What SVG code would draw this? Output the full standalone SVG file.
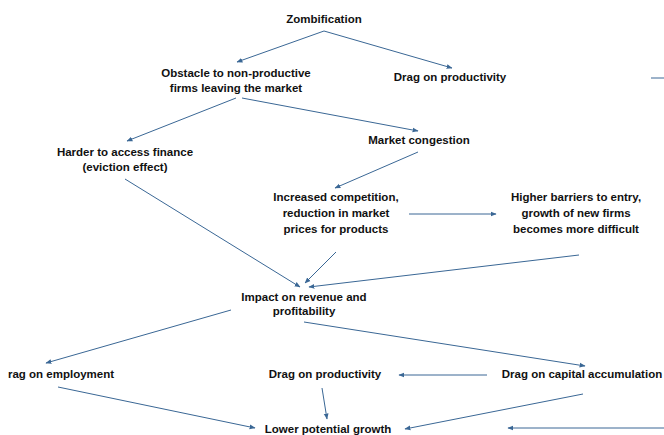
<svg xmlns="http://www.w3.org/2000/svg" width="664" height="435" viewBox="0 0 664 435">
<style>
text{font-family:"Liberation Sans",Arial,sans-serif;font-weight:bold;font-size:11.5px;fill:#111;text-anchor:middle}
.c line{stroke:#3a6795;stroke-width:1}
.a{marker-end:url(#ah)}
</style>
<defs>
<marker id="ah" viewBox="0 0 10 10" refX="9" refY="5" markerWidth="6" markerHeight="6" orient="auto" markerUnits="userSpaceOnUse">
<path d="M0,1 L10,5 L0,9 z" fill="#3a6795"/>
</marker>
</defs>
<rect width="664" height="435" fill="#fff"/>
<g class="c" id="connectors">
<line class="a" x1="324" y1="31" x2="237" y2="62"/>
<line class="a" x1="324" y1="31" x2="452" y2="68"/>
<line x1="651" y1="78" x2="664" y2="78"/>
<line class="a" x1="236" y1="98" x2="127" y2="141"/>
<line class="a" x1="242" y1="98" x2="418" y2="131"/>
<line class="a" x1="418" y1="152" x2="335" y2="188"/>
<line class="a" x1="125" y1="179" x2="300" y2="287"/>
<line class="a" x1="409" y1="214" x2="496" y2="214"/>
<line class="a" x1="336" y1="252" x2="305" y2="283"/>
<line class="a" x1="579" y1="255" x2="309" y2="287"/>
<line class="a" x1="231" y1="310" x2="46" y2="363"/>
<line class="a" x1="304" y1="322" x2="585" y2="366"/>
<line class="a" x1="487" y1="375" x2="399" y2="375"/>
<line class="a" x1="322" y1="388" x2="327" y2="419"/>
<line class="a" x1="58" y1="387" x2="255" y2="428"/>
<line class="a" x1="583" y1="394" x2="405" y2="429"/>
<line class="a" x1="664" y1="428" x2="508" y2="428"/>
</g>
<g id="zombification"><text x="324" y="23">Zombification</text></g>
<g id="obstacle"><text x="236" y="77">Obstacle to non-productive</text><text x="236" y="92">firms leaving the market</text></g>
<g id="drag-prod-top"><text x="450" y="81">Drag on productivity</text></g>
<g id="harder-finance"><text x="125" y="156">Harder to access finance</text><text x="125" y="171">(eviction effect)</text></g>
<g id="market-congestion"><text x="419" y="144">Market congestion</text></g>
<g id="increased-competition"><text x="336" y="201">Increased competition,</text><text x="336" y="217">reduction in market</text><text x="336" y="233">prices for products</text></g>
<g id="higher-barriers"><text x="576" y="201">Higher barriers to entry,</text><text x="576" y="217">growth of new firms</text><text x="576" y="233">becomes more difficult</text></g>
<g id="impact"><text x="304" y="301">Impact on revenue and</text><text x="304" y="315">profitability</text></g>
<g id="drag-employment"><text x="8" y="378" style="text-anchor:start">rag on employment</text></g>
<g id="drag-prod-bottom"><text x="325" y="378">Drag on productivity</text></g>
<g id="drag-capital"><text x="582" y="378">Drag on capital accumulation</text></g>
<g id="lower-growth"><text x="328" y="433">Lower potential growth</text></g>
</svg>
